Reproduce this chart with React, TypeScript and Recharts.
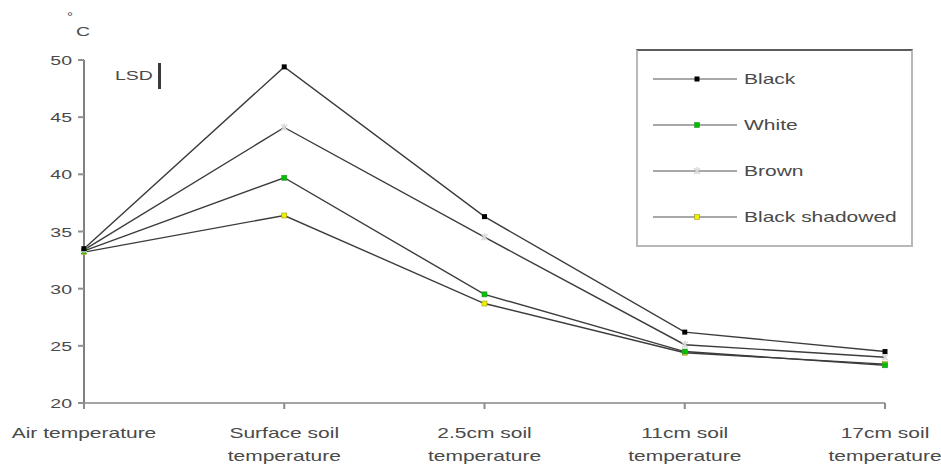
import React from "react";
import { LineChart, Line, XAxis, YAxis } from "recharts";

const categories = [
  "Air temperature",
  "Surface soil temperature",
  "2.5cm soil temperature",
  "11cm soil temperature",
  "17cm soil temperature",
];
const categoryLines = [
  ["Air temperature"],
  ["Surface soil", "temperature"],
  ["2.5cm soil", "temperature"],
  ["11cm soil", "temperature"],
  ["17cm soil", "temperature"],
];
const black = [33.5, 49.4, 36.3, 26.2, 24.5];
const white = [33.3, 39.7, 29.5, 24.5, 23.3];
const brown = [33.4, 44.1, 34.5, 25.1, 24.0];
const blackShadowed = [33.2, 36.4, 28.7, 24.4, 23.4];
const yTicks = [20, 25, 30, 35, 40, 45, 50];

const data = categories.map((c, i) => ({
  name: c,
  black: black[i],
  white: white[i],
  brown: brown[i],
  blackShadowed: blackShadowed[i],
}));

const FONT = '"Liberation Sans", Arial, sans-serif';
const LINE = "#3c3c3c";
const TEXT = "#4a4a4a";
const STRETCH = 1.5;

type Marker = "black" | "white" | "brown" | "shadow";

// the source picture is wider than tall, so its lettering looks stretched
function WideText({ x, y, anchor = "start", size = 14, children }: any) {
  return (
    <text
      transform={`translate(${x},${y}) scale(${STRETCH},1)`}
      textAnchor={anchor}
      fontSize={size}
      fontFamily={FONT}
      fill={TEXT}
    >
      {children}
    </text>
  );
}

function MarkerShape({ kind, cx, cy }: { kind: Marker; cx: number; cy: number }) {
  if (kind === "black") {
    return <rect x={cx - 2.5} y={cy - 2.5} width={5} height={5} fill="#000" />;
  }
  if (kind === "white") {
    return <rect x={cx - 2.5} y={cy - 2.5} width={5} height={5} fill="#00c000" stroke="#2f8f2f" strokeWidth={0.6} />;
  }
  if (kind === "shadow") {
    return <rect x={cx - 2.5} y={cy - 2.5} width={5} height={5} fill="#f0f000" stroke="#9a9a30" strokeWidth={0.6} />;
  }
  return (
    <g stroke="#d8d8d8" strokeWidth={1.5}>
      <line x1={cx - 3} y1={cy - 3} x2={cx + 3} y2={cy + 3} />
      <line x1={cx + 3} y1={cy - 3} x2={cx - 3} y2={cy + 3} />
      <line x1={cx} y1={cy - 4} x2={cx} y2={cy + 3} />
    </g>
  );
}

const makeDot = (kind: Marker) => (props: any) => (
  <MarkerShape key={`${kind}-${props.index}`} kind={kind} cx={props.cx} cy={props.cy} />
);

const legendItems: { label: string; kind: Marker }[] = [
  { label: "Black", kind: "black" },
  { label: "White", kind: "white" },
  { label: "Brown", kind: "brown" },
  { label: "Black shadowed", kind: "shadow" },
];

function LegendBox() {
  return (
    <div
      style={{
        position: "absolute",
        left: 636,
        top: 49,
        width: 273,
        height: 194,
        border: "2px solid #b8b8b8",
        borderTop: "2px solid #5c5c5c",
        background: "#fff",
      }}
    >
      <svg width={273} height={194} style={{ display: "block" }}>
        {legendItems.map((it, i) => {
          const y = 28 + i * 46;
          return (
            <g key={it.label}>
              <line x1={15} x2={99} y1={y} y2={y} stroke="#a8a8a8" strokeWidth={2} />
              <MarkerShape kind={it.kind} cx={59} cy={y} />
              <WideText x={106} y={y + 5}>
                {it.label}
              </WideText>
            </g>
          );
        })}
      </svg>
    </div>
  );
}

function XTick(props: any) {
  const { x, y, index } = props;
  const lines = categoryLines[index] || [];
  return (
    <g>
      {lines.map((l, i) => (
        <WideText key={i} x={x} y={y + 27 + i * 23} anchor="middle">
          {l}
        </WideText>
      ))}
    </g>
  );
}

function YTick(props: any) {
  const { x, y, payload } = props;
  return (
    <WideText x={x} y={y + 5} anchor="end" size={13}>
      {payload.value}
    </WideText>
  );
}

export default function App() {
  return (
    <div style={{ position: "absolute", left: 0, top: 0, width: 941, height: 470, background: "#fff" }}>
      <LineChart
        width={941}
        height={470}
        data={data}
        margin={{ top: 60, right: 56, bottom: 0, left: 0 }}
      >
        <XAxis
          dataKey="name"
          scale="point"
          height={67}
          interval={0}
          tick={<XTick />}
          axisLine={{ stroke: "#a4a4a4", strokeWidth: 2 }}
          tickLine={{ stroke: "#8c8c8c", strokeWidth: 2 }}
          tickSize={6}
        />
        <YAxis
          width={84}
          domain={[20, 50]}
          ticks={yTicks}
          interval={0}
          tick={<YTick />}
          axisLine={{ stroke: "#808080", strokeWidth: 2 }}
          tickLine={{ stroke: "#909090", strokeWidth: 2 }}
          tickSize={6}
          tickMargin={6}
        />
        <Line dataKey="blackShadowed" name="Black shadowed" stroke={LINE} strokeWidth={1.4} dot={makeDot("shadow")} isAnimationActive={false} />
        <Line dataKey="white" name="White" stroke={LINE} strokeWidth={1.4} dot={makeDot("white")} isAnimationActive={false} />
        <Line dataKey="brown" name="Brown" stroke={LINE} strokeWidth={1.4} dot={makeDot("brown")} isAnimationActive={false} />
        <Line dataKey="black" name="Black" stroke={LINE} strokeWidth={1.4} dot={makeDot("black")} isAnimationActive={false} />
      </LineChart>
      <LegendBox />
      <svg width={200} height={100} style={{ position: "absolute", left: 0, top: 0 }}>
        <WideText x={67} y={20} size={10}>°</WideText>
        <WideText x={76} y={36} size={13}>C</WideText>
        <WideText x={115} y={80} size={13}>LSD</WideText>
        <line x1={159.5} x2={159.5} y1={63} y2={89} stroke="#3a3a3a" strokeWidth={3} />
      </svg>
    </div>
  );
}
